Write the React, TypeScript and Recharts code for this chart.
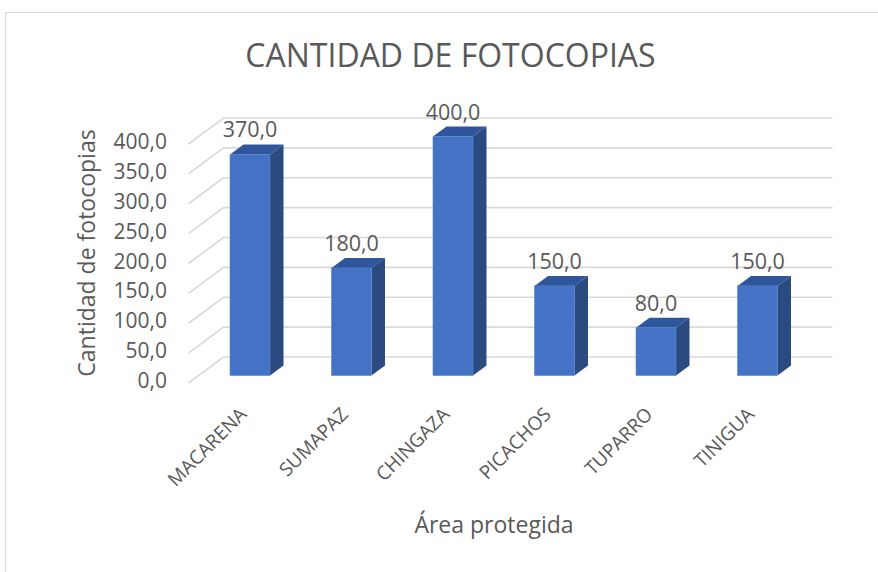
import React from 'react';
import { BarChart, Bar, XAxis, YAxis, CartesianGrid, LabelList } from 'recharts';

const categories = ['MACARENA', 'SUMAPAZ', 'CHINGAZA', 'PICACHOS', 'TUPARRO', 'TINIGUA'];
const fotocopias = [370, 180, 400, 150, 80, 150];
const yTicks = [0, 50, 100, 150, 200, 250, 300, 350, 400];

const data = categories.map((area, i) => ({ area, value: fotocopias[i] }));

const FONT = '"Open Sans", "Noto Sans", sans-serif';
const TEXT = '#595959';
const GRID = '#d9d9d9';

// 3D look: bar depth and floor/back-wall offsets (px)
const DEPTH_X = 13.5;
const DEPTH_Y = 10;
const FRONT = { dx: -10.5, dy: 7.5 };
const BACK = { dx: 24.5, dy: -18.5 };

const fmt = (v: number) => v.toFixed(1).replace('.', ',');

const Bar3D = (props: any) => {
  const { x, y, width: w, height: h } = props;
  if (!h) return null;
  return (
    <g>
      <polygon
        points={`${x},${y} ${x + DEPTH_X},${y - DEPTH_Y} ${x + w + DEPTH_X},${y - DEPTH_Y} ${x + w},${y}`}
        fill="#2f559a"
      />
      <polygon
        points={`${x + w},${y} ${x + w + DEPTH_X},${y - DEPTH_Y} ${x + w + DEPTH_X},${y + h - DEPTH_Y} ${x + w},${y + h}`}
        fill="#2a4a80"
      />
      <rect x={x} y={y} width={w} height={h} fill="#4472C4" stroke="#5a85cf" strokeWidth={0.6} />
    </g>
  );
};

const gridLine = (props: any) => {
  const { x1, x2, y1, index } = props;
  const pts = [
    `${x1 + FRONT.dx},${y1 + FRONT.dy}`,
    `${x1 + BACK.dx},${y1 + BACK.dy}`,
    `${x2 + BACK.dx},${y1 + BACK.dy}`,
  ].join(' ');
  return <polyline key={`g-${index}`} points={pts} fill="none" stroke={GRID} strokeWidth={1.6} />;
};

const YTick = (props: any) => {
  const { x, y, payload } = props;
  return (
    <text x={x - 32} y={y + 12.5} textAnchor="end" fill={TEXT} fontSize={21} fontFamily={FONT}>
      {fmt(payload.value)}
    </text>
  );
};

const XTick = (props: any) => {
  const { x, y, payload } = props;
  const ax = x - 2;
  const ay = y + 40;
  return (
    <text
      x={ax}
      y={ay}
      textAnchor="end"
      transform={`rotate(-45 ${ax} ${ay})`}
      fill={TEXT}
      fontSize={19}
      fontFamily={FONT}
    >
      {payload.value}
    </text>
  );
};

const ValueLabel = (props: any) => {
  const { x, y, width, value } = props;
  return (
    <text x={x + width / 2} y={y - 17} textAnchor="middle" fill={TEXT} fontSize={21.5} fontFamily={FONT}>
      {fmt(Number(value))}
    </text>
  );
};

export default function App() {
  return (
    <div style={{ position: 'fixed', left: 0, top: 0, width: 878, height: 572, background: '#fff' }}>
      <BarChart
        width={878}
        height={572}
        data={data}
        margin={{ top: 136.5, right: 70, bottom: 136.5, left: 119 }}
        barSize={40}
      >
        <path d="M5.5 572 V12.5 H878" fill="none" stroke={GRID} strokeWidth={1.2} />
        <text x={450.5} y={67} textAnchor="middle" fill={TEXT} fontSize={32} fontFamily={FONT}>
          CANTIDAD DE FOTOCOPIAS
        </text>
        <text
          x={95}
          y={253}
          textAnchor="middle"
          transform="rotate(-90 95 253)"
          fill={TEXT}
          fontSize={23}
          fontFamily={FONT}
        >
          Cantidad de fotocopias
        </text>
        <text x={494} y={533} textAnchor="middle" fill={TEXT} fontSize={23} fontFamily={FONT}>
          Área protegida
        </text>
        <CartesianGrid vertical={false} horizontal={gridLine} />
        <XAxis
          dataKey="area"
          axisLine={false}
          tickLine={false}
          tickSize={0}
          tickMargin={0}
          interval={0}
          height={60}
          tick={<XTick />}
        />
        <YAxis
          domain={[0, 400]}
          ticks={yTicks}
          axisLine={false}
          tickLine={false}
          tickSize={0}
          tickMargin={0}
          width={80}
          tick={<YTick />}
        />
        <Bar dataKey="value" shape={<Bar3D />} isAnimationActive={false}>
          <LabelList dataKey="value" content={<ValueLabel />} />
        </Bar>
      </BarChart>
    </div>
  );
}
